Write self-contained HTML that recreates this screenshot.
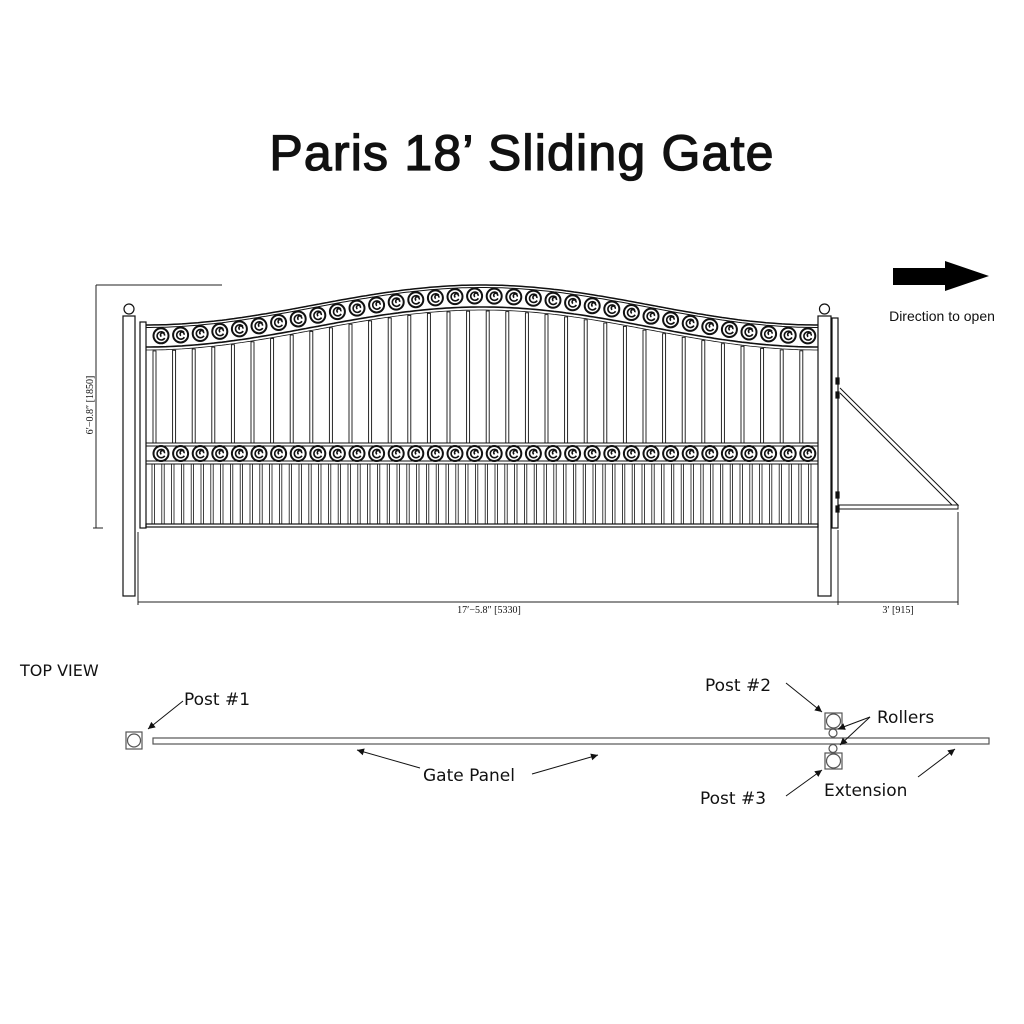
<!DOCTYPE html>
<html><head><meta charset="utf-8">
<style>
html,body{margin:0;padding:0;background:#fff;width:1024px;height:1024px;overflow:hidden}
svg{display:block}
text{font-family:"Liberation Sans",sans-serif;fill:#111}
.lb{font-family:"DejaVu Sans",sans-serif}
</style></head>
<body>
<svg id="s" width="1024" height="1024" viewBox="0 0 1024 1024" xmlns="http://www.w3.org/2000/svg">
<defs>
<marker id="ah" viewBox="0 0 10 10" refX="10" refY="5" markerWidth="9" markerHeight="7" orient="auto" markerUnits="userSpaceOnUse">
<path d="M0,0 L10,5 L0,10 z" fill="#111"/></marker>
</defs>
<text x="522" y="170" font-size="50" text-anchor="middle" stroke="#111" stroke-width="1.3" style="letter-spacing:1.2px">Paris 18’ Sliding Gate</text>
<path d="M893,268 L945,268 L945,261 L989,276 L945,291 L945,285 L893,285 Z" fill="#000"/>
<text x="942" y="321" font-size="14" text-anchor="middle">Direction to open</text>
<g id="gate" stroke="#111" fill="none" stroke-width="1.2"></g>
<g stroke="#222" stroke-width="1" fill="none">
<line x1="96" y1="285" x2="222" y2="285"/>
<line x1="96" y1="285" x2="96" y2="528"/>
<line x1="93" y1="528" x2="103" y2="528"/>
<line x1="138" y1="602" x2="958" y2="602"/>
<line x1="138" y1="532" x2="138" y2="605"/>
<line x1="838" y1="530" x2="838" y2="605"/>
<line x1="958" y1="512" x2="958" y2="605"/>
</g>
<text transform="translate(93,405) rotate(-90)" font-size="10" text-anchor="middle" style="font-family:'Liberation Serif',serif">6′−0.8″ [1850]</text>
<text x="489" y="613" font-size="10" text-anchor="middle" style="font-family:'Liberation Serif',serif">17′−5.8″  [5330]</text>
<text x="898" y="613" font-size="10" text-anchor="middle" style="font-family:'Liberation Serif',serif">3′  [915]</text>
<text x="20" y="676" font-size="16" class="lb">TOP  VIEW</text>
<g stroke="#555" fill="none" stroke-width="1.2">
<rect x="126" y="732" width="16" height="17"/><circle cx="134" cy="740.5" r="6.5"/>
<rect x="153" y="738" width="836" height="6"/>
<rect x="825" y="713" width="17" height="16"/><circle cx="833.5" cy="721" r="7"/>
<circle cx="833" cy="733" r="4"/>
<circle cx="833" cy="748.5" r="4"/>
<rect x="825" y="753" width="17" height="16"/><circle cx="833.5" cy="761" r="7"/>
</g>
<g stroke="#111" stroke-width="1" fill="none" marker-end="url(#ah)">
<line x1="183" y1="701" x2="148" y2="729"/>
<line x1="420" y1="768" x2="357" y2="750"/>
<line x1="532" y1="774" x2="598" y2="755"/>
<line x1="786" y1="683" x2="822" y2="712"/>
<line x1="870" y1="717" x2="838" y2="729"/>
<line x1="870" y1="717" x2="840" y2="745"/>
<line x1="786" y1="796" x2="822" y2="770"/>
<line x1="918" y1="777" x2="955" y2="749"/>
</g>
<text x="184" y="705" font-size="17" class="lb">Post #1</text>
<text x="423" y="781" font-size="17" class="lb">Gate Panel</text>
<text x="705" y="691" font-size="17" class="lb">Post #2</text>
<text x="877" y="723" font-size="17" class="lb">Rollers</text>
<text x="700" y="804" font-size="17" class="lb">Post #3</text>
<text x="824" y="796" font-size="17" class="lb">Extension</text>
</svg>
<script>
(function(){
var g=document.getElementById('gate');var ns='http://www.w3.org/2000/svg';
function el(t,a){var e=document.createElementNS(ns,t);for(var k in a)e.setAttribute(k,a[k]);g.appendChild(e);return e;}
var x0=146,x1=818;
function yt(x){var t=(x-x0)/(x1-x0);return 326-40*(1-Math.cos(2*Math.PI*t))/2;}
el('rect',{x:123,y:316,width:12,height:280});
el('circle',{cx:129,cy:309,r:5});
el('rect',{x:818,y:316,width:13,height:280});
el('circle',{cx:824.5,cy:309,r:5});
el('rect',{x:140,y:322,width:6,height:206});
el('rect',{x:832,y:318,width:6,height:210});
var d1='',d2='',d3='';
for(var x=x0;x<=x1;x+=4){var y=yt(x);d1+=(x==x0?'M':'L')+x+','+(y-1).toFixed(1);d2+=(x==x0?'M':'L')+x+','+(y+1.5).toFixed(1);d3+=(x==x0?'M':'L')+x+','+(y+21).toFixed(1);}
el('path',{d:d1,'stroke-width':1.5});el('path',{d:d2,'stroke-width':1});el('path',{d:d3,'stroke-width':1.6});
el('path',{d:d3.replace(/,([\d.]+)/g,function(m,v){return ','+(parseFloat(v)+3).toFixed(1);}),'stroke-width':0.8});
el('rect',{x:146,y:443,width:672,height:3,'stroke-width':1});
el('rect',{x:146,y:461,width:672,height:3,'stroke-width':1});
el('rect',{x:146,y:524,width:672,height:3,'stroke-width':1.2});
for(var x=153;x<815;x+=19.6){var yy=yt(x+2)+25;el('rect',{x:x.toFixed(1),y:yy.toFixed(1),width:3,height:(443-yy).toFixed(1),'stroke-width':0.9});}
for(var x=152;x<815;x+=9.8){el('rect',{x:x.toFixed(1),y:464,width:2.4,height:60,'stroke-width':0.8});}
function scroll(cx,cy,r){el('circle',{cx:cx,cy:cy,r:r,'stroke-width':2});
el('path',{d:'M'+(cx+r*0.45)+','+(cy-r*0.35)+' A'+(r*0.55)+','+(r*0.55)+' 0 1 0 '+(cx+r*0.5)+','+(cy+r*0.3)+' M'+(cx+r*0.05)+','+(cy+r*0.1)+' a2,2 0 1 1 3,-1','stroke-width':1.6});}
for(var x=161;x<815;x+=19.6){scroll(x,453.5,7.5);}
for(var x=161;x<815;x+=19.6){scroll(x,yt(x)+10,7.5);}
el('rect',{x:839,y:505,width:119,height:4,'stroke-width':1});
el('path',{d:'M840,388 L958,505 L952,505 L840,393','stroke-width':1});
for(var i=0;i<4;i++){el('rect',{x:836,y:[378,392,492,506][i],width:3,height:6,fill:'#111'});}
})();
</script>
</body></html>
